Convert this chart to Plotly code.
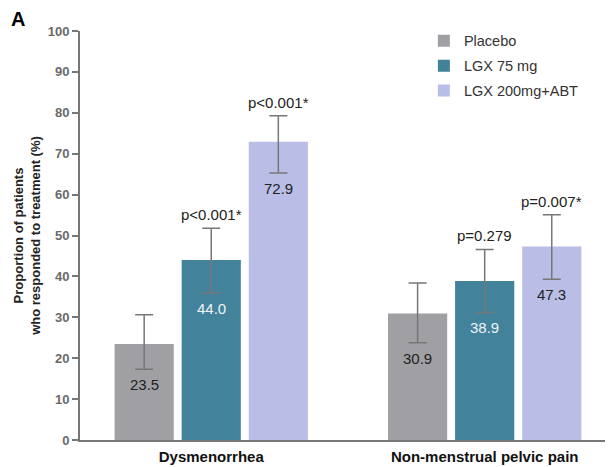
import plotly.graph_objects as go

categories = ["Dysmenorrhea", "Non-menstrual pelvic pain"]
series_names = ["Placebo", "LGX 75 mg", "LGX 200mg+ABT"]
values = {
    "Placebo": [23.5, 30.9],
    "LGX 75 mg": [44.0, 38.9],
    "LGX 200mg+ABT": [72.9, 47.3],
}
upper = {
    "Placebo": [30.6, 38.4],
    "LGX 75 mg": [51.8, 46.6],
    "LGX 200mg+ABT": [79.3, 55.1],
}
lower = {
    "Placebo": [17.3, 23.8],
    "LGX 75 mg": [36.0, 31.2],
    "LGX 200mg+ABT": [65.3, 39.3],
}
pvalues = {
    "Placebo": ["", ""],
    "LGX 75 mg": ["p<0.001*", "p=0.279"],
    "LGX 200mg+ABT": ["p<0.001*", "p=0.007*"],
}
colors = {"Placebo": "#a09fa4", "LGX 75 mg": "#43829b", "LGX 200mg+ABT": "#babee7"}
label_colors = {"Placebo": "#222222", "LGX 75 mg": "#eef4f8", "LGX 200mg+ABT": "#222222"}

FONT = "Liberation Sans, Arial, sans-serif"
bargap = 0.264
bargroupgap = 0.118

fig = go.Figure()
for name in series_names:
    v = values[name]
    fig.add_trace(go.Bar(
        name=name, x=categories, y=v, legendgroup=name,
        marker=dict(color=colors[name], line=dict(width=0)),
        error_y=dict(type="data", symmetric=False,
                     array=[u - a for u, a in zip(upper[name], v)],
                     arrayminus=[a - l for l, a in zip(lower[name], v)],
                     color="#777777", thickness=1.5, width=9),
    ))

annotations = []
slot = (1 - bargap) / len(series_names)
for i, name in enumerate(series_names):
    off = (i - (len(series_names) - 1) / 2) * slot
    for j, cat in enumerate(categories):
        x = j + off
        annotations.append(dict(x=x, y=lower[name][j], xref="x", yref="y",
                                text=f"{values[name][j]:.1f}", showarrow=False,
                                yanchor="top", yshift=-5,
                                font=dict(family=FONT, size=15, color=label_colors[name])))
        if pvalues[name][j]:
            annotations.append(dict(x=x, y=upper[name][j], xref="x", yref="y",
                                    text=pvalues[name][j], showarrow=False,
                                    yanchor="bottom", yshift=3,
                                    font=dict(family=FONT, size=15, color="#222222")))
annotations.append(dict(x=-0.135, y=1.06, xref="paper", yref="paper", xanchor="left", yanchor="top",
                        text="<b>A</b>", showarrow=False,
                        font=dict(family=FONT, size=20, color="#000000")))

fig.update_layout(
    width=611, height=467,
    margin=dict(l=80, r=6, t=31, b=27),
    paper_bgcolor="white", plot_bgcolor="white",
    barmode="group", bargap=bargap, bargroupgap=bargroupgap,
    font=dict(family=FONT, color="#222222"),
    showlegend=True,
    legend=dict(x=0.655, y=1.015, xanchor="left", yanchor="top",
                font=dict(family=FONT, size=14.5, color="#333333"),
                bgcolor="rgba(0,0,0,0)", itemsizing="constant", tracegroupgap=3),
    annotations=annotations,
    xaxis=dict(type="category", range=[-0.48, 1.44], showline=True, linecolor="#777777", linewidth=2,
               ticks="", tickfont=dict(family=FONT, size=15, color="#111111", weight="bold"),
               ticklabelstandoff=2, showgrid=False, zeroline=False, automargin=False),
    yaxis=dict(range=[0, 100], tickvals=list(range(0, 101, 10)), showline=True, linecolor="#777777",
               linewidth=2, ticks="outside", ticklen=6, tickcolor="#777777", tickwidth=2,
               tickfont=dict(family=FONT, size=13, color="#6a6a6a", weight="bold"),
               showgrid=False, zeroline=False, automargin=False,
               title=dict(text="<b>Proportion of patients<br>who responded to treatment (%)</b>",
                          font=dict(family=FONT, size=13, color="#222222"), standoff=4)),
)

fig.write_html("out.html")
